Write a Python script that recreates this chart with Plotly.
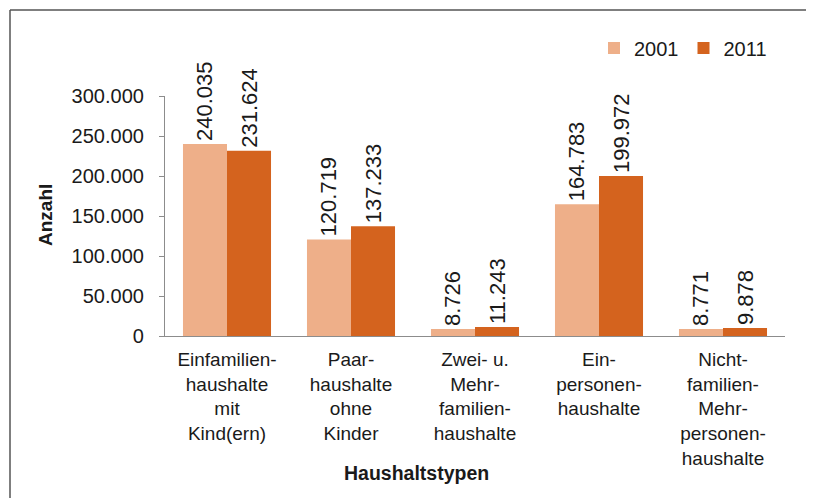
import plotly.graph_objects as go

categories = [
    "Einfamilien-<br>haushalte<br>mit<br>Kind(ern)",
    "Paar-<br>haushalte<br>ohne<br>Kinder",
    "Zwei- u.<br>Mehr-<br>familien-<br>haushalte",
    "Ein-<br>personen-<br>haushalte",
    "Nicht-<br>familien-<br>Mehr-<br>personen-<br>haushalte",
]
series_names = ["2001", "2011"]
values_2001 = [240035, 120719, 8726, 164783, 8771]
values_2011 = [231624, 137233, 11243, 199972, 9878]
y_ticks = [0, 50000, 100000, 150000, 200000, 250000, 300000]

colors = ["#EEAF89", "#D4631E"]
FONT = "Liberation Sans, Arial, sans-serif"
TXT = "#1a1a1a"

fig = go.Figure()
for name, vals, col in zip(series_names, [values_2001, values_2011], colors):
    fig.add_trace(go.Bar(
        x=categories, y=vals, name=name,
        marker=dict(color=col, line=dict(width=0)),
        texttemplate="%{y:,d}", textposition="outside", textangle=-90,
        textfont=dict(size=22, color=TXT, family=FONT),
        cliponaxis=False, constraintext="none",
    ))

# page has an 8px body margin; figure sized to fit the window
OFF = 8
W, H = 806, 490
L, R, T, B = 157, 29, 88, 162
pw, ph = W - L - R, H - T - B

def px_x(x_page):
    return (x_page - OFF - L) / pw

def px_y(y_page):
    return (H - B - (y_page - OFF)) / ph

fig.update_layout(
    width=W, height=H,
    margin=dict(l=L, r=R, t=T, b=B, autoexpand=False),
    paper_bgcolor="white", plot_bgcolor="white",
    separators=",.",
    barmode="group", bargap=0.29, bargroupgap=0,
    font=dict(family=FONT, size=20, color=TXT),
    showlegend=True,
    legend=dict(orientation="h", x=px_x(594), xanchor="left", y=px_y(48), yanchor="middle",
                font=dict(size=20, color=TXT), bgcolor="rgba(0,0,0,0)", itemwidth=30),
    xaxis=dict(showline=True, linecolor="#8c8c8c", linewidth=1.2, ticks="",
               ticklabelstandoff=6,
               tickfont=dict(size=19, color=TXT), showgrid=False, fixedrange=True),
    yaxis=dict(range=[0, 300000], tickvals=y_ticks, tickformat=",d",
               showline=True, linecolor="#8c8c8c", linewidth=1.2,
               ticks="outside", ticklen=5, tickcolor="#8c8c8c", tickwidth=1.2,
               ticklabelstandoff=11,
               tickfont=dict(size=20, color=TXT), showgrid=False, zeroline=False),
    annotations=[
        dict(text="<b>Anzahl</b>", xref="paper", yref="paper", x=px_x(45), y=px_y(215),
             textangle=-90, showarrow=False, font=dict(size=19, color=TXT),
             xanchor="center", yanchor="middle"),
        dict(text="<b>Haushaltstypen</b>", xref="paper", yref="paper", x=px_x(416), y=px_y(473),
             showarrow=False, font=dict(size=19.5, color=TXT),
             xanchor="center", yanchor="middle"),
    ],
    shapes=[
        dict(type="line", xref="paper", yref="paper", x0=px_x(10), x1=px_x(830),
             y0=px_y(10), y1=px_y(10), line=dict(color="#555555", width=1.5)),
        dict(type="line", xref="paper", yref="paper", x0=px_x(10), x1=px_x(10),
             y0=px_y(10), y1=px_y(510), line=dict(color="#555555", width=1.5)),
    ],
)

fig.write_html("out.html")
